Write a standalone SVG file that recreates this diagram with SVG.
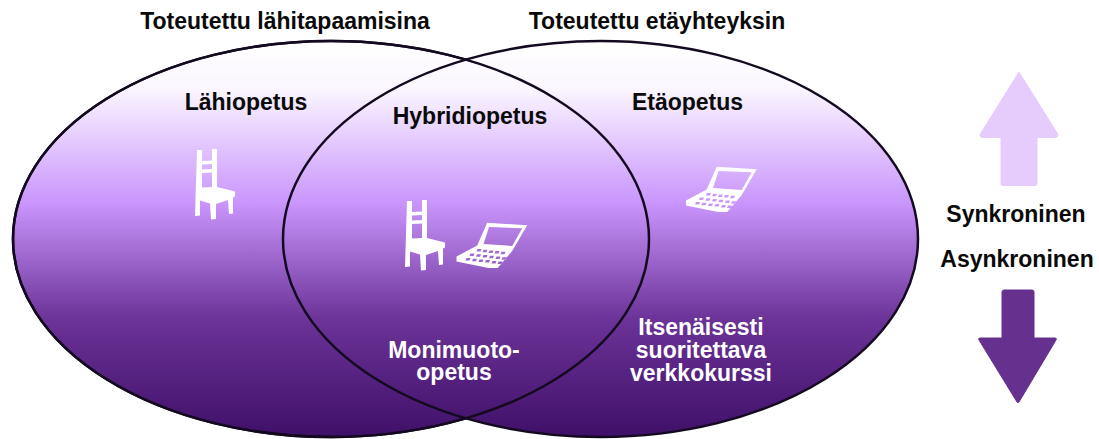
<svg xmlns="http://www.w3.org/2000/svg" width="1099" height="439" viewBox="0 0 1099 439">
<style>
.t{font-family:"Liberation Sans",Arial,sans-serif;font-weight:700;font-size:23px;text-anchor:middle}
.k{fill:#0a0a0a}.w{fill:#fff}
.e{stroke:#140a20;stroke-width:2.500}
</style>
<defs>
<linearGradient id="g" x1="0" y1="0" x2="0" y2="1">
<stop offset="0" stop-color="#ffffff"/>
<stop offset="0.12" stop-color="#fbf6ff"/>
<stop offset="0.41" stop-color="#c995fc"/>
<stop offset="0.7" stop-color="#6c3398"/>
<stop offset="1" stop-color="#3f1068"/>
</linearGradient>
<path id="chair" fill="#fff" fill-rule="evenodd" d="M197 150h5v11l10-.5v-11.500h5v38l18 4.500v5l-2 1v16l-4 .5-1-14-12 4v15l-5 .5-1-16-10-3v15l-5 .5zM202 164.500v5l10-.5v-5zM202 173v14.500l10-.5v-14.500z"/>
<path id="laptop" fill="#fff" fill-rule="evenodd" d="M716.700 166.700l40 2.500-15 25.800-14.500 17-9.200 0-32-6.500v-5l20.700-11zM718.500 171l-5.500 17 28.700 2 10-17.700zM707 193h4l-1 2.500h-4zM713 193.700h4l-1 2.500h-4zM719 194.400h4l-1 2.500h-4zM725 195h4l-1 2.500h-4zM731 195.800h4l-1 2.500h-4zM700 197.500h4l-1 2.500h-4zM706.500 198.200h4l-1 2.500h-4zM713 199h4l-1 2.500h-4zM719.500 199.700h4l-1 2.500h-4zM726 200.500h4l-1 2.500h-4zM732 201.200h4l-1 2.500h-4zM696 202h4l-1 2.500h-4zM702.500 202.700h4l-1 2.500h-4zM709 203.400h4l-1 2.500h-4zM715.500 204.100h4l-1 2.500h-4zM722 204.900h4l-1 2.500h-4zM728 205.600h4l-1 2.500h-4z"/>
</defs>
<g id="connectors"></g>
<g id="venn">
<g id="node-lahiopetus"><ellipse class="e" cx="331" cy="239" rx="318" ry="198" fill="url(#g)"/></g>
<g id="node-etaopetus"><ellipse class="e" cx="600.500" cy="239" rx="317.500" ry="198" fill="url(#g)"/></g>
<g id="node-hybridiopetus"><ellipse class="e" cx="331" cy="239" rx="318" ry="198" fill="none"/></g>
</g>
<g id="labels-top">
<text class="t k" x="285" y="29">Toteutettu lähitapaamisina</text>
<text class="t k" x="657" y="29">Toteutettu etäyhteyksin</text>
</g>
<g id="labels">
<text class="t k" x="246" y="110">Lähiopetus</text>
<text class="t k" x="470" y="124">Hybridiopetus</text>
<text class="t k" x="687.500" y="110">Etäopetus</text>
<text class="t w" x="454" y="358">Monimuoto-</text>
<text class="t w" x="454" y="380">opetus</text>
<text class="t w" x="701" y="335">Itsenäisesti</text>
<text class="t w" x="701" y="358">suoritettava</text>
<text class="t w" x="701" y="381">verkkokurssi</text>
</g>
<g id="icons">
<use href="#chair"/>
<use href="#chair" x="210" y="51"/>
<use href="#laptop"/>
<use href="#laptop" x="-229.500" y="56"/>
</g>
<g id="node-up"><path d="M1019 72l39 62.500q0 3-3 3h-18v46q0 2-2 2h-32q-2 0-2-2v-46h-18q-3 0-3-3z" fill="#e6ccfd" stroke="#e6ccfd"/></g>
<g id="node-down"><path d="M1005 290h27q2 0 2 2v46h21q2 0 1 2l-37 62q-1 1-2 0l-38-62q-1-2 1-2h22v-46q0-2 2-2z" fill="#66308f" stroke="#66308f"/></g>
<g id="labels-right">
<text class="t k" x="1016" y="222">Synkroninen</text>
<text class="t k" x="1017" y="267">Asynkroninen</text>
</g>
</svg>
